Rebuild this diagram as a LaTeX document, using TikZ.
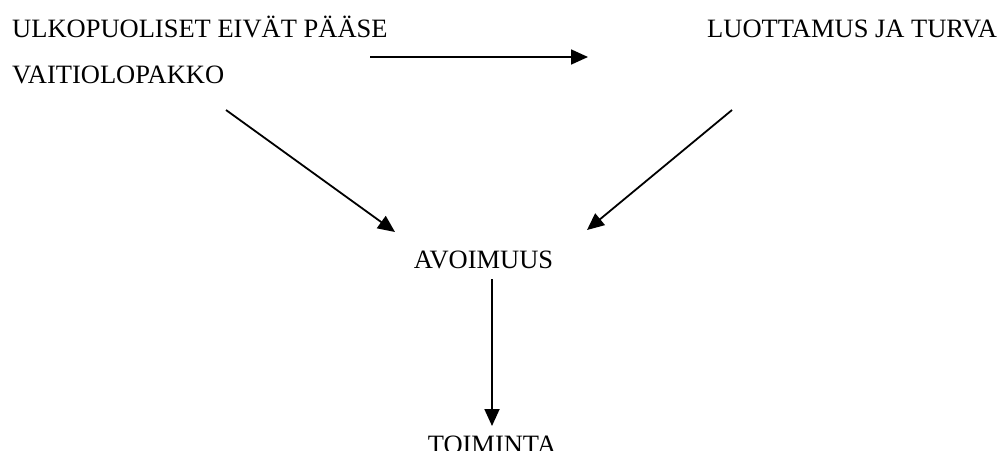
\documentclass[tikz,border=0pt]{standalone}
\usepackage{fontspec}
\setmainfont{Liberation Serif}
\usepackage{tikz}
\usetikzlibrary{arrows.meta}

\begin{document}
\begin{tikzpicture}[x=1pt,y=-1pt,
		word/.style={inner sep=0pt,font=\fontsize{26.5}{30}\selectfont},
		arr/.style={line width=1.8pt,-{Triangle[length=17pt,width=15pt]}}]
		\useasboundingbox (0,0) rectangle (1008,450);
		% texts
		\node [word,anchor=base west] (ulko) at (12,37) {ULKOPUOLISET EIVÄT PÄÄSE};
		\node [word,anchor=base west] (vaitio) at (12,83) {VAITIOLOPAKKO};
		\node [word,anchor=base west] (luotto) at (707,37) {LUOTTAMUS JA TURVA};
		\node [word,anchor=base] (avoin) at (483.5,268) {AVOIMUUS};
		\node [word,anchor=base] (toiminta) at (492,453.5) {TOIMINTA};
		% ends
		\coordinate (h1) at (370,57);
		\coordinate (h2) at (588,57);
		\coordinate (l1) at (226,110);
		\coordinate (l2) at (395,232);
		\coordinate (r1) at (732,110);
		\coordinate (r2) at (587,230);
		\coordinate (v1) at (492,279);
		\coordinate (v2) at (492,426);
		% arrows
		\draw [arr] (h1) to (h2);
		\draw [arr] (l1) to (l2);
		\draw [arr] (r1) to (r2);
		\draw [arr] (v1) to (v2);
		\end{tikzpicture}
\end{document}
